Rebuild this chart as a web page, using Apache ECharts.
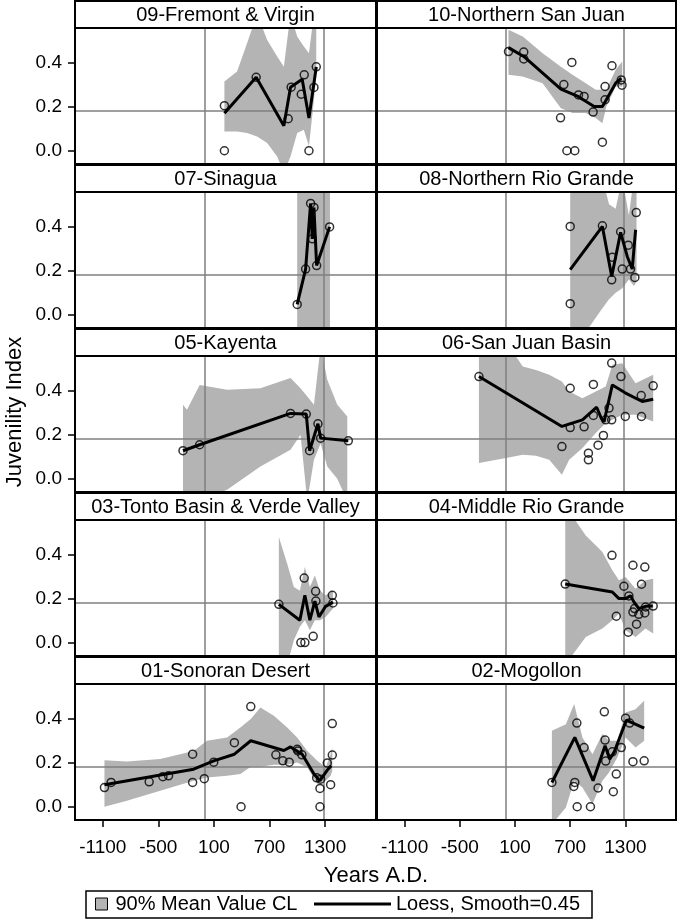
<!DOCTYPE html>
<html>
<head>
<meta charset="utf-8">
<script src="https://cdn.jsdelivr.net/npm/echarts@6/dist/echarts.min.js"></script>
<style>
  html, body { margin: 0; padding: 0; background: #fff; }
  #main { width: 680px; height: 923px; }
</style>
</head>
<body>
<div id="main"></div>
<script>
// tick labels
const xTicks = [-1100, -500, 100, 700, 1300];
const yTicks = [0, 0.2, 0.4];
const refYears = [0, 1285];
const refJuv = 0.183;

// points are [year, juvenility]; fit = loess curve; band = [year, low, high]
const p09Pts = [[213,0.204],[213,0.0],[556,0.333],[902,0.145],[934,0.288],[1043,0.256],[1075,0.344],[1126,0.0],[1180,0.287],[1205,0.38]];
const p09Fit = [[213,0.17],[556,0.333],[855,0.113],[927,0.288],[1053,0.324],[1126,0.148],[1205,0.38]];
const p09Band = [[213,0.087,0.314],[350,0.087,0.359],[458,0.08,0.487],[566,0.065,0.62],[675,0.035,0.502],[783,-0.026,0.427],[855,-0.1,0.381],[927,-0.026,0.62],[999,0.08,0.517],[1071,0.095,0.472],[1126,0.02,0.442],[1180,0.231,0.62],[1205,0.336,0.62]];

const p10Pts = [[29,0.449],[195,0.447],[195,0.416],[595,0.149],[631,0.30],[664,0.0],[718,0.40],[750,0.0],[790,0.253],[851,0.246],[949,0.175],[1050,0.039],[1079,0.231],[1079,0.291],[1154,0.385],[1255,0.321],[1263,0.297]];
const p10Fit = [[29,0.467],[195,0.427],[599,0.279],[790,0.245],[960,0.20],[1050,0.20],[1093,0.231],[1194,0.306],[1255,0.329]];
const p10Band = [[29,0.344,0.548],[184,0.336,0.517],[400,0.306,0.442],[599,0.193,0.381],[725,0.171,0.344],[869,0.171,0.306],[978,0.148,0.276],[1050,0.125,0.276],[1093,0.20,0.276],[1194,0.291,0.367],[1266,0.291,0.404]];

const p07Pts = [[999,0.047],[1090,0.207],[1144,0.504],[1180,0.486],[1162,0.344],[1209,0.223],[1349,0.398]];
const p07Fit = [[999,0.047],[1090,0.207],[1144,0.504],[1162,0.344],[1180,0.486],[1209,0.223],[1349,0.398]];
const p07Band = [[999,-0.2,0.7],[1353,-0.2,0.7]];

const p08Pts = [[700,0.40],[700,0.05],[1050,0.403],[1151,0.158],[1158,0.261],[1248,0.376],[1266,0.207],[1331,0.315],[1356,0.207],[1403,0.169],[1418,0.463]];
const p08Fit = [[700,0.204],[1050,0.40],[1151,0.173],[1248,0.373],[1320,0.264],[1374,0.207],[1411,0.385]];
const p08Band = [[700,-0.1,0.62],[833,-0.1,0.55],[1050,0.03,0.62],[1122,0.07,0.5],[1194,0.1,0.48],[1266,0.12,0.62],[1338,0.16,0.45],[1392,0.13,0.62],[1421,0.15,0.62]];

const p05Pts = [[-234,0.127],[-54,0.154],[927,0.296],[1097,0.293],[1133,0.127],[1223,0.249],[1252,0.184],[1551,0.172]];
const p05Fit = [[-234,0.127],[-54,0.154],[927,0.296],[1097,0.293],[1133,0.127],[1223,0.249],[1252,0.184],[1551,0.172]];
const p05Band = [[-234,-0.1,0.335],[-191,-0.1,0.312],[-54,-0.1,0.425],[242,-0.05,0.403],[602,0.056,0.41],[927,0.131,0.456],[1035,0.199,0.41],[1108,-0.1,0.372],[1180,0.086,0.335],[1252,0.16,0.6],[1324,0.056,0.448],[1432,0.0,0.335],[1540,-0.1,0.282]];

const p06Pts = [[-292,0.463],[610,0.146],[700,0.41],[700,0.232],[851,0.235],[898,0.116],[898,0.086],[952,0.427],[952,0.287],[1003,0.152],[1061,0.196],[1086,0.267],[1122,0.32],[1151,0.267],[1151,0.524],[1252,0.463],[1299,0.282],[1472,0.377],[1475,0.282],[1602,0.421]];
const p06Fit = [[-292,0.463],[610,0.237],[833,0.267],[988,0.324],[1039,0.273],[1068,0.258],[1158,0.425],[1302,0.388],[1483,0.35],[1602,0.36]];
const p06Band = [[-292,0.071,0.62],[4,0.094,0.62],[184,0.109,0.508],[328,0.104,0.493],[472,0.086,0.471],[610,0.018,0.44],[689,0.086,0.395],[833,0.139,0.365],[978,0.207,0.395],[1086,0.252,0.418],[1158,0.267,0.516],[1266,0.29,0.523],[1410,0.29,0.433],[1602,0.259,0.471]];

const p03Pts = [[801,0.174],[1075,0.293],[1039,0.001],[1082,0.001],[1172,0.029],[1198,0.233],[1201,0.189],[1378,0.215],[1385,0.18]];
const p03Fit = [[801,0.174],[1028,0.102],[1082,0.215],[1136,0.102],[1190,0.189],[1234,0.117],[1306,0.165],[1385,0.184]];
const p03Band = [[801,-0.1,0.479],[891,-0.1,0.358],[963,0.011,0.253],[1028,0.072,0.235],[1082,0.102,0.343],[1136,0.057,0.253],[1190,0.102,0.305],[1245,0.102,0.235],[1306,0.117,0.215],[1385,0.155,0.235]];

const p04Pts = [[646,0.266],[1154,0.396],[1382,0.351],[1511,0.343],[1475,0.265],[1284,0.256],[1201,0.12],[1338,0.212],[1400,0.155],[1446,0.129],[1511,0.135],[1519,0.162],[1602,0.166],[1421,0.084],[1331,0.048],[1382,0.139]];
const p04Fit = [[646,0.266],[1158,0.23],[1230,0.2],[1302,0.2],[1356,0.213],[1392,0.185],[1446,0.155],[1519,0.165],[1598,0.166]];
const p04Band = [[646,-0.1,0.62],[869,0.026,0.486],[1050,0.064,0.411],[1158,0.102,0.328],[1230,0.132,0.283],[1302,0.057,0.298],[1410,0.026,0.245],[1519,0.064,0.283],[1602,0.042,0.29]];

const p01Pts = [[-1082,0.087],[-1010,0.11],[-599,0.113],[-451,0.136],[-390,0.14],[-130,0.238],[-130,0.11],[-4,0.127],[98,0.202],[321,0.29],[393,0.0],[498,0.454],[769,0.235],[844,0.208],[913,0.202],[999,0.26],[1007,0.253],[1050,0.235],[1209,0.131],[1245,0.083],[1245,0.0],[1252,0.125],[1324,0.198],[1360,0.1],[1378,0.377],[1378,0.234]];
const p01Fit = [[-1082,0.1],[-119,0.17],[98,0.208],[321,0.238],[498,0.299],[855,0.255],[927,0.271],[1053,0.238],[1180,0.148],[1245,0.118],[1324,0.166],[1367,0.186]];
const p01Band = [[-1082,0.0,0.211],[-840,0.027,0.205],[-480,0.072,0.216],[-119,0.118,0.253],[25,0.133,0.299],[242,0.14,0.314],[386,0.148,0.359],[498,0.181,0.397],[602,0.181,0.449],[747,0.19,0.412],[891,0.19,0.359],[999,0.2,0.314],[1108,0.178,0.253],[1216,0.103,0.208],[1306,0.118,0.178],[1360,0.14,0.238],[1378,0.163,0.268]];

const p02Pts = [[501,0.11],[739,0.092],[750,0.11],[772,0.379],[776,0.0],[851,0.268],[920,0.0],[1003,0.085],[1071,0.43],[1079,0.302],[1086,0.207],[1158,0.249],[1169,0.068],[1201,0.148],[1255,0.268],[1302,0.401],[1346,0.379],[1382,0.204],[1504,0.208]];
const p02Fit = [[501,0.11],[750,0.314],[949,0.118],[1079,0.276],[1129,0.216],[1176,0.246],[1310,0.392],[1504,0.356]];
const p02Band = [[501,-0.08,0.344],[653,-0.003,0.374],[743,0.118,0.465],[833,0.087,0.314],[942,0.012,0.238],[1050,0.118,0.329],[1122,0.155,0.299],[1212,0.223,0.299],[1302,0.314,0.427],[1410,0.268,0.442],[1504,0.299,0.48]];

const panels = [
  { title: '09-Fremont & Virgin', pts: p09Pts, fit: p09Fit, band: p09Band },
  { title: '10-Northern San Juan', pts: p10Pts, fit: p10Fit, band: p10Band },
  { title: '07-Sinagua', pts: p07Pts, fit: p07Fit, band: p07Band },
  { title: '08-Northern Rio Grande', pts: p08Pts, fit: p08Fit, band: p08Band },
  { title: '05-Kayenta', pts: p05Pts, fit: p05Fit, band: p05Band },
  { title: '06-San Juan Basin', pts: p06Pts, fit: p06Fit, band: p06Band },
  { title: '03-Tonto Basin & Verde Valley', pts: p03Pts, fit: p03Fit, band: p03Band },
  { title: '04-Middle Rio Grande', pts: p04Pts, fit: p04Fit, band: p04Band },
  { title: '01-Sonoran Desert', pts: p01Pts, fit: p01Fit, band: p01Band },
  { title: '02-Mogollon', pts: p02Pts, fit: p02Fit, band: p02Band }
];

const FONT = "'Liberation Sans', Arial, sans-serif";
const BAND = '#b4b4b4';
const colLeft = [75, 377];
const colW = [301, 299];
const stripH = 27;
const dataH = 136;
const rowPitch = 164;

var grids = [], xAxes = [], yAxes = [], series = [], graphics = [];

// whole CL band as one polygon, drawn once through the axes
function bandRenderer(band) {
  return function (params, api) {
    if (params.dataIndex !== 0) return;
    var upper = band.map(function (b) { return api.coord([b[0], b[2]]); });
    var lower = band.slice().reverse().map(function (b) { return api.coord([b[0], b[1]]); });
    var cs = params.coordSys;
    return {
      type: 'polygon',
      shape: { points: upper.concat(lower) },
      style: { fill: BAND, stroke: null },
      clipPath: { type: 'rect', shape: { x: cs.x, y: cs.y, width: cs.width, height: cs.height } }
    };
  };
}

panels.forEach(function (p, i) {
  var r = Math.floor(i / 2), c = i % 2;
  var stripTop = 1 + rowPitch * r;
  var top = stripTop + stripH;
  var bottomRow = r === 4, leftCol = c === 0;

  grids.push({ left: colLeft[c], top: top, width: colW[c], height: dataH });

  xAxes.push({
    gridIndex: i, type: 'value', min: -1400, max: 1850,
    splitLine: { show: false },
    axisLine: { show: false, onZero: false },
    axisTick: { show: bottomRow, length: 7, customValues: xTicks, lineStyle: { color: '#000', width: 1.5 } },
    axisLabel: { show: bottomRow, customValues: xTicks, margin: 18, color: '#000', fontSize: 19, fontFamily: FONT,
      formatter: function (v) { return String(v); } }
  });
  yAxes.push({
    gridIndex: i, type: 'value', min: -0.06, max: 0.556,
    splitLine: { show: false },
    axisLine: { show: false, onZero: false },
    axisTick: { show: leftCol, length: 7, customValues: yTicks, lineStyle: { color: '#000', width: 1.5 } },
    axisLabel: { show: leftCol, customValues: yTicks, margin: 13, color: '#000', fontSize: 19, fontFamily: FONT,
      formatter: function (v) { return v.toFixed(1); } }
  });

  series.push({
    name: '90% Mean Value CL', type: 'custom', xAxisIndex: i, yAxisIndex: i, silent: true,
    data: p.band, clip: true, z: 1,
    itemStyle: { color: BAND },
    encode: { x: 0, y: [1, 2] },
    renderItem: bandRenderer(p.band)
  });
  series.push({
    name: 'Loess, Smooth=0.45', type: 'line', xAxisIndex: i, yAxisIndex: i,
    data: p.fit, symbol: 'none',
    lineStyle: { color: '#000', width: 3 }, itemStyle: { color: '#000' }, z: 4
  });
  series.push({
    type: 'scatter', xAxisIndex: i, yAxisIndex: i, data: p.pts,
    symbol: 'circle', symbolSize: 8,
    itemStyle: { color: 'rgba(0,0,0,0)', borderColor: '#000', borderWidth: 1.5 }, z: 5,
    markLine: {
      silent: true, symbol: 'none', z: 3, animation: false,
      label: { show: false },
      lineStyle: { color: '#7f7f7f', width: 1.5, type: 'solid' },
      data: refYears.map(function (y) { return { xAxis: y }; }).concat([{ yAxis: refJuv }])
    }
  });

  // panel header strip and frame
  graphics.push({ type: 'rect', z: 100, shape: { x: colLeft[c], y: stripTop, width: colW[c], height: stripH },
    style: { fill: '#fff', stroke: '#000', lineWidth: 2 } });
  graphics.push({ type: 'text', z: 101, x: colLeft[c] + colW[c] / 2, y: stripTop + stripH / 2 + 1,
    style: { text: p.title, fill: '#000', font: '20px ' + FONT, textAlign: 'center', textVerticalAlign: 'middle', verticalAlign: 'middle' } });
  graphics.push({ type: 'rect', z: 100, shape: { x: colLeft[c], y: top, width: colW[c], height: dataH },
    style: { fill: 'none', stroke: '#000', lineWidth: 2 } });
});

graphics.push({ type: 'text', z: 100, x: 15, y: 412, rotation: Math.PI / 2,
  style: { text: 'Juvenility Index', fill: '#000', font: '22px ' + FONT, textAlign: 'center', textVerticalAlign: 'middle', verticalAlign: 'middle' } });
graphics.push({ type: 'text', z: 100, x: 376, y: 876,
  style: { text: 'Years A.D.', fill: '#000', font: '22px ' + FONT, textAlign: 'center', textVerticalAlign: 'middle', verticalAlign: 'middle' } });
graphics.push({ type: 'rect', z: 100, shape: { x: 86, y: 891, width: 506, height: 27 },
  style: { fill: 'none', stroke: '#000', lineWidth: 1.5 } });

var chart = echarts.init(document.getElementById('main'));
chart.setOption({
  animation: false,
  backgroundColor: '#fff',
  grid: grids,
  xAxis: xAxes,
  yAxis: yAxes,
  series: series,
  graphic: graphics,
  legend: [
    { data: ['90% Mean Value CL'], left: 95, top: 894, padding: 0, icon: 'rect', selectedMode: false,
      itemWidth: 12, itemHeight: 12, itemStyle: { color: BAND, borderColor: '#000', borderWidth: 1 },
      textStyle: { fontSize: 20, color: '#000', fontFamily: FONT, padding: [0, 0, 0, 3] } },
    { data: ['Loess, Smooth=0.45'], left: 314, top: 894, padding: 0, icon: 'rect', selectedMode: false,
      itemWidth: 77, itemHeight: 3, itemStyle: { color: '#000', borderWidth: 0 },
      textStyle: { fontSize: 20, color: '#000', fontFamily: FONT } }
  ]
});
</script>
</body>
</html>
